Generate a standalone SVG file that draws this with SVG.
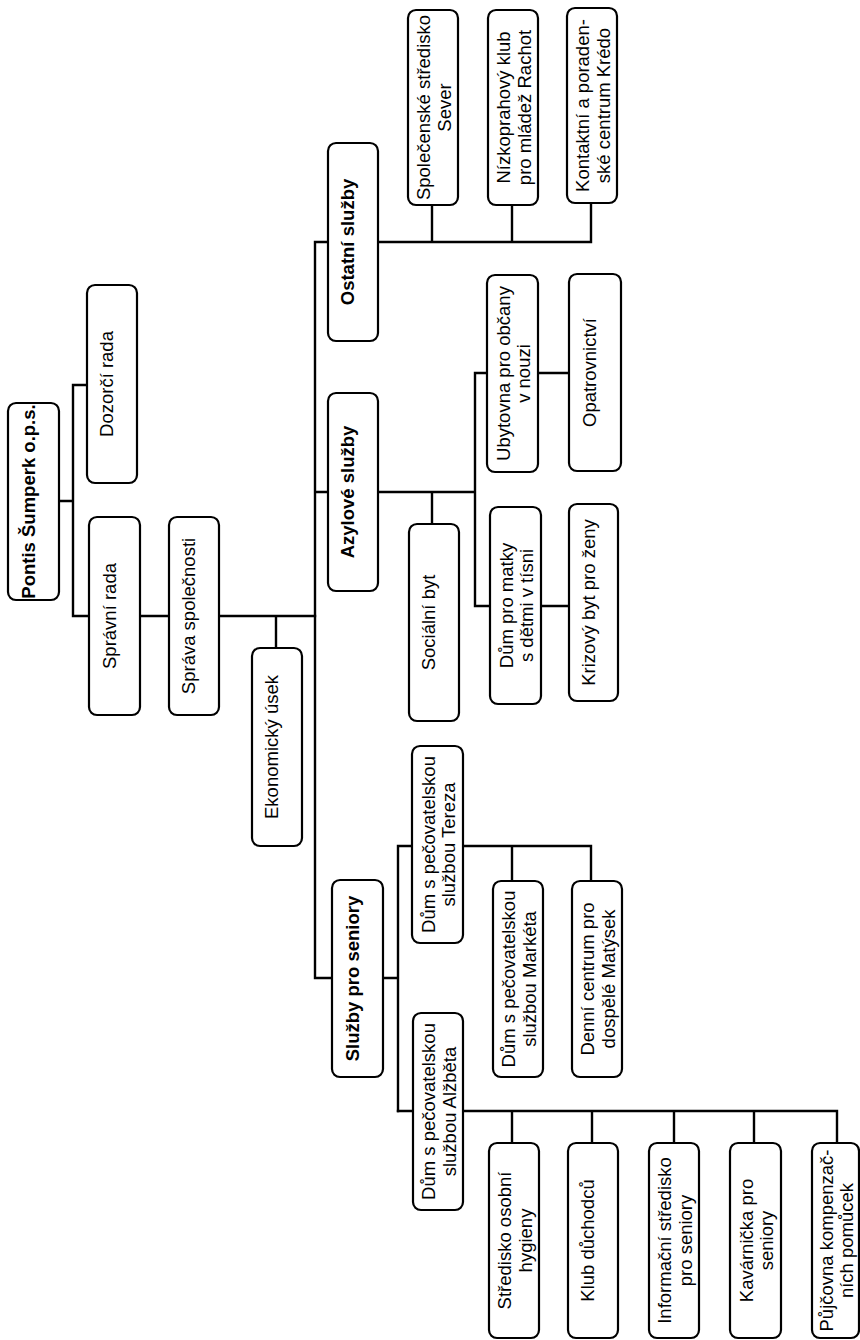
<svg xmlns="http://www.w3.org/2000/svg" width="860" height="1340" viewBox="0 0 860 1340">
<style>
.box{fill:#fff;stroke:#000;stroke-width:2.2}
.t{font-family:"Liberation Sans",Arial,sans-serif;font-size:18.5px;text-anchor:middle;fill:#000}
.b{font-weight:bold}
.c{fill:none;stroke:#000;stroke-width:2.4;stroke-linecap:square}
</style>
<rect width="860" height="1340" fill="#fff"/>
<g id="connectors">
<path class="c" d="M59,501H73M73,385V616M73,385H87M73,616H89"/>
<path class="c" d="M140,616H169"/>
<path class="c" d="M219,616H315M276,616V648"/>
<path class="c" d="M315,242V978M315,242H328M315,492H328M315,978H332"/>
<path class="c" d="M378,242H591M432,242V205M512,242V205M591,242V203"/>
<path class="c" d="M378,492H475M432,492V524M475,373V606M475,373H487M538,373H569M475,606H490M541,606H569"/>
<path class="c" d="M383,978H398M398,846V1111M398,846H412M463,846H591M512,846V881M591,846V881"/>
<path class="c" d="M398,1111H413M463,1111H837M512,1111V1143M592,1111V1143M674,1111V1143M754,1111V1143M837,1111V1143"/>
</g>
<g id="n-pontis"><rect class="box" x="8" y="403" width="51" height="197" rx="8"/><text class="t b" transform="translate(33.5,501.5) rotate(-90)" y="1">Pontis Šumperk o.p.s.</text></g>
<g id="n-dozorci"><rect class="box" x="87" y="285" width="50" height="198" rx="8"/><text class="t" transform="translate(112,384) rotate(-90)" y="1">Dozorčí rada</text></g>
<g id="n-spravni"><rect class="box" x="89" y="517" width="51" height="198" rx="8"/><text class="t" transform="translate(114.5,616) rotate(-90)" y="1">Správní rada</text></g>
<g id="n-sprava"><rect class="box" x="169" y="517" width="50" height="198" rx="8"/><text class="t" transform="translate(194,616) rotate(-90)" y="1">Správa společnosti</text></g>
<g id="n-ekonom"><rect class="box" x="252" y="648" width="50" height="198" rx="8"/><text class="t" transform="translate(277,747) rotate(-90)" y="1">Ekonomický úsek</text></g>
<g id="n-ostatni"><rect class="box" x="328" y="143" width="50" height="198" rx="8"/><text class="t b" transform="translate(353,242) rotate(-90)" y="1">Ostatní služby</text></g>
<g id="n-azylove"><rect class="box" x="328" y="393" width="50" height="198" rx="8"/><text class="t b" transform="translate(353,492) rotate(-90)" y="1">Azylové služby</text></g>
<g id="n-seniory"><rect class="box" x="332" y="880" width="51" height="197" rx="8"/><text class="t b" transform="translate(357.5,978.5) rotate(-90)" y="1">Služby pro seniory</text></g>
<g id="n-sever"><rect class="box" x="408" y="10" width="50" height="195" rx="8"/><text class="t" transform="translate(433,107.5) rotate(-90)"><tspan x="0" y="-3">Společenské středisko</tspan><tspan x="0" y="17.5">Sever</tspan></text></g>
<g id="n-rachot"><rect class="box" x="488" y="10" width="50" height="195" rx="8"/><text class="t" transform="translate(513,107.5) rotate(-90)"><tspan x="0" y="-3">Nízkoprahový klub</tspan><tspan x="0" y="17.5">pro mládež Rachot</tspan></text></g>
<g id="n-kredo"><rect class="box" x="567" y="8" width="50" height="195" rx="8"/><text class="t" transform="translate(592,105.5) rotate(-90)"><tspan x="0" y="-3">Kontaktní a poraden-</tspan><tspan x="0" y="17.5">ské centrum Krédo</tspan></text></g>
<g id="n-ubytovna"><rect class="box" x="487" y="275" width="51" height="197" rx="8"/><text class="t" transform="translate(512.5,373.5) rotate(-90)"><tspan x="0" y="-3">Ubytovna pro občany</tspan><tspan x="0" y="17.5">v nouzi</tspan></text></g>
<g id="n-opatrov"><rect class="box" x="569" y="274" width="52" height="197" rx="8"/><text class="t" transform="translate(595,372.5) rotate(-90)" y="1">Opatrovnictví</text></g>
<g id="n-socbyt"><rect class="box" x="409" y="524" width="50" height="197" rx="8"/><text class="t" transform="translate(434,622.5) rotate(-90)" y="1">Sociální byt</text></g>
<g id="n-matky"><rect class="box" x="490" y="507" width="51" height="197" rx="8"/><text class="t" transform="translate(515.5,605.5) rotate(-90)"><tspan x="0" y="-3">Dům pro matky</tspan><tspan x="0" y="17.5">s dětmi v tísni</tspan></text></g>
<g id="n-krizovy"><rect class="box" x="569" y="504" width="49" height="197" rx="8"/><text class="t" transform="translate(593.5,602.5) rotate(-90)" y="1">Krizový byt pro ženy</text></g>
<g id="n-tereza"><rect class="box" x="412" y="746" width="51" height="197" rx="8"/><text class="t" transform="translate(437.5,844.5) rotate(-90)"><tspan x="0" y="-3">Dům s pečovatelskou</tspan><tspan x="0" y="17.5">službou Tereza</tspan></text></g>
<g id="n-marketa"><rect class="box" x="493" y="881" width="50" height="196" rx="8"/><text class="t" transform="translate(518,979) rotate(-90)"><tspan x="0" y="-3">Dům s pečovatelskou</tspan><tspan x="0" y="17.5">službou Markéta</tspan></text></g>
<g id="n-matysek"><rect class="box" x="572" y="881" width="50" height="196" rx="8"/><text class="t" transform="translate(597,979) rotate(-90)"><tspan x="0" y="-3">Denní centrum pro</tspan><tspan x="0" y="17.5">dospělé Matýsek</tspan></text></g>
<g id="n-alzbeta"><rect class="box" x="413" y="1013" width="50" height="197" rx="8"/><text class="t" transform="translate(438,1111.5) rotate(-90)"><tspan x="0" y="-3">Dům s pečovatelskou</tspan><tspan x="0" y="17.5">službou Alžběta</tspan></text></g>
<g id="n-hygiena"><rect class="box" x="489" y="1143" width="50" height="195" rx="8"/><text class="t" transform="translate(514,1240.5) rotate(-90)"><tspan x="0" y="-3">Středisko osobní</tspan><tspan x="0" y="17.5">hygieny</tspan></text></g>
<g id="n-klub"><rect class="box" x="568" y="1143" width="50" height="195" rx="8"/><text class="t" transform="translate(593,1240.5) rotate(-90)" y="1">Klub důchodců</text></g>
<g id="n-info"><rect class="box" x="649" y="1143" width="50" height="195" rx="8"/><text class="t" transform="translate(674,1240.5) rotate(-90)"><tspan x="0" y="-3">Informační středisko</tspan><tspan x="0" y="17.5">pro seniory</tspan></text></g>
<g id="n-kavarna"><rect class="box" x="730" y="1143" width="51" height="195" rx="8"/><text class="t" transform="translate(755.5,1240.5) rotate(-90)"><tspan x="0" y="-3">Kavárnička pro</tspan><tspan x="0" y="17.5">seniory</tspan></text></g>
<g id="n-pujcovna"><rect class="box" x="812" y="1143" width="47" height="195" rx="8"/><text class="t" transform="translate(835.5,1240.5) rotate(-90)"><tspan x="0" y="-3">Půjčovna kompenzač-</tspan><tspan x="0" y="17.5">ních pomůcek</tspan></text></g>
</svg>
